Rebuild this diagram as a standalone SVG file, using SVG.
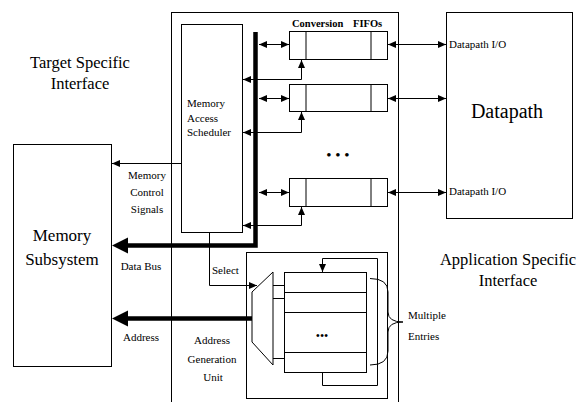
<svg xmlns="http://www.w3.org/2000/svg" width="579" height="402" viewBox="0 0 579 402">
<style>
.b{fill:#fff;stroke:#000;stroke-width:1}
.n{fill:none;stroke:#000;stroke-width:1}
.k{fill:none;stroke:#000;stroke-width:4.5}
text{font-family:"Liberation Serif","Times New Roman",Tinos,"DejaVu Serif",serif;fill:#000}
.s{font-size:11px}
.m{text-anchor:middle}
</style>
<defs>
<marker id="a" markerUnits="userSpaceOnUse" markerWidth="8" markerHeight="8" refX="8" refY="4" orient="auto-start-reverse">
<path d="M0,0.5 L8,4 L0,7.5 z" fill="#000"/>
</marker>
</defs>
<rect x="0" y="0" width="579" height="402" fill="#fff"/>

<g id="outer"><rect class="b" x="171.5" y="12.5" width="227" height="400"/></g>

<g id="memory-subsystem">
<rect class="b" x="13.5" y="144.5" width="98" height="222"/>
<text class="m" x="62" y="241" font-size="17">Memory</text>
<text class="m" x="62" y="265" font-size="17">Subsystem</text>
</g>

<g id="scheduler">
<rect class="b" x="181.5" y="24.5" width="61" height="208"/>
<text class="s" x="187" y="107">Memory</text>
<text class="s" x="187" y="122">Access</text>
<text class="s" x="187" y="136">Scheduler</text>
</g>

<g id="fifo1"><rect class="b" x="289.5" y="31.5" width="98" height="28"/><path class="n" d="M306,31.5V59.5M371,31.5V59.5"/></g>
<g id="fifo2"><rect class="b" x="289.5" y="84.5" width="98" height="27"/><path class="n" d="M306,84.5V111.5M371,84.5V111.5"/></g>
<g id="fifo3"><rect class="b" x="289.5" y="178.5" width="98" height="28"/><path class="n" d="M306,178.5V206.5M371,178.5V206.5"/></g>

<g id="datapath">
<rect class="b" x="446.5" y="12.5" width="126" height="206"/>
<text class="m" x="507" y="118" font-size="20">Datapath</text>
<text class="s" x="449" y="48">Datapath  I/O</text>
<text class="s" x="449" y="195">Datapath  I/O</text>
</g>

<g id="agu">
<rect class="b" x="246.5" y="252.5" width="141" height="146"/>
<polygon class="b" points="273,272 273,365 252,342 252,292"/>
<rect class="b" x="284.5" y="272.5" width="82" height="100"/>
<path class="n" d="M284.5,292.5H366.5M284.5,312.5H366.5M284.5,352.5H366.5"/>
<path class="n" d="M273,285.5H284.5M273,298.5H284.5M273,358.5H284.5"/>
<text class="m" x="322" y="340" font-size="12">•••</text>
<text class="s m" x="212" y="344">Address</text>
<text class="s m" x="212" y="363">Generation</text>
<text class="s m" x="213" y="381">Unit</text>
</g>

<g id="connectors">
<path class="k" d="M255.5,32V245.5H126"/>
<polygon points="112,245.5 128,237.5 128,253.5" fill="#000"/>
<path class="k" d="M252,318.5H126"/>
<polygon points="112,318.5 128,310.5 128,326.5" fill="#000"/>
<path class="n" d="M181,163.5H112" marker-end="url(#a)"/>
<path class="n" d="M209.5,232V285.5H257" marker-end="url(#a)"/>
<path class="n" d="M259,44.5H289" marker-start="url(#a)" marker-end="url(#a)"/>
<path class="n" d="M259,98.5H289" marker-start="url(#a)" marker-end="url(#a)"/>
<path class="n" d="M259,192.5H289" marker-start="url(#a)" marker-end="url(#a)"/>
<path class="n" d="M388,44.5H446" marker-start="url(#a)" marker-end="url(#a)"/>
<path class="n" d="M388,98.5H446" marker-start="url(#a)" marker-end="url(#a)"/>
<path class="n" d="M388,192.5H446" marker-start="url(#a)" marker-end="url(#a)"/>
<path class="n" d="M301.5,79.5V60" marker-end="url(#a)"/>
<path class="n" d="M301.5,79.5H243" marker-end="url(#a)"/>
<path class="n" d="M301.5,132.5V112" marker-end="url(#a)"/>
<path class="n" d="M301.5,132.5H243" marker-end="url(#a)"/>
<path class="n" d="M301.5,225.5V207" marker-end="url(#a)"/>
<path class="n" d="M301.5,225.5H243" marker-end="url(#a)"/>
<path class="n" d="M322.5,372.5V385.5H377.5V258.5H322.5V272" marker-end="url(#a)"/>
<path class="n" d="M370,278.5Q388,278.5 388,292V312Q388,322 403,322Q388,322 388,332V351Q388,365 370,365"/>
</g>

<g id="labels">
<text x="292" y="27" font-size="10.5" font-weight="bold">Conversion</text>
<text x="353" y="27" font-size="10.5" font-weight="bold">FIFOs</text>
<text class="m" x="338" y="160" font-size="15">• • •</text>
<text class="s m" x="147" y="179">Memory</text>
<text class="s m" x="147" y="196">Control</text>
<text class="s m" x="147" y="213">Signals</text>
<text class="s m" x="141" y="270">Data Bus</text>
<text class="s m" x="141" y="341">Address</text>
<text class="s" x="212" y="274">Select</text>
<text class="s" x="408" y="319">Multiple</text>
<text class="s" x="408" y="340">Entries</text>
<text class="m" x="80" y="68" font-size="16.5">Target Specific</text>
<text class="m" x="80" y="89" font-size="16.5">Interface</text>
<text class="m" x="508" y="265" font-size="16.5">Application Specific</text>
<text class="m" x="508" y="286" font-size="16.5">Interface</text>
</g>
</svg>
